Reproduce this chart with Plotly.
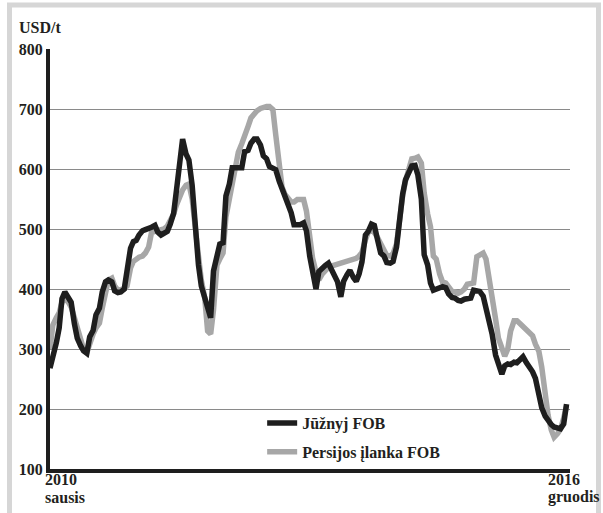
import pandas as pd
import plotly.graph_objects as go

# semi-monthly observations, Jan 2010 - Dec 2016 (USD/t)
dates = pd.date_range("2010-01-01", periods=168, freq="SMS")

juznyj_fob = [
    268, 285, 310, 335, 384, 395, 383, 378, 342, 318, 305, 297, 293, 320, 331, 357,
    368, 395, 412, 415, 412, 397, 394, 395, 400, 437, 468, 479, 481, 490, 497, 499,
    500, 503, 506, 495, 490, 492, 496, 508, 526, 565, 607, 650, 625, 615, 573, 505,
    440, 405, 382, 366, 352, 430, 452, 475, 477, 555, 575, 602, 602, 602, 602, 629,
    631, 643, 650, 650, 640, 622, 617, 604, 601, 599, 580, 568, 557, 543, 527, 507,
    507, 507, 510, 497, 455, 433, 400, 429, 433, 439, 443, 434, 420, 412, 387, 413,
    424, 431, 419, 413, 425, 445, 490, 496, 508, 506, 480, 460, 455, 444, 443, 446,
    470, 515, 558, 582, 596, 605, 606, 590, 550, 457, 440, 410, 398, 400, 402, 404,
    402, 392, 386, 385, 381, 380, 383, 383, 385, 398, 398, 396, 388, 370, 345, 325,
    290, 275, 258, 272, 275, 274, 278, 277, 282, 287, 277, 271, 262, 251, 226, 202,
    188, 180, 174, 170, 167, 167, 175, 208,
]

persijos_fob = [
    300, 340, 352, 360, 378, 385, 378, 370, 352, 335, 315, 300, 294, 310, 325, 335,
    343, 368, 400, 415, 418, 405, 398, 398, 400, 405, 435, 446, 450, 453, 455, 460,
    470, 494, 496, 497, 498, 500, 505, 513, 525, 540, 555, 565, 573, 575, 550, 500,
    455, 415, 385, 330, 325, 365, 440, 450, 460, 520, 550, 580, 605, 628, 642, 658,
    671, 685, 692, 697, 701, 703, 704, 704, 699, 657, 610, 570, 558, 553, 545, 545,
    549, 549, 549, 530, 480, 452, 428, 415, 425, 432, 436, 438, 440, 441, 442, 444,
    445, 447, 449, 451, 455, 461, 482, 495, 498, 494, 485, 475, 464, 456, 455, 459,
    475, 520, 555, 580, 605, 617, 618, 620, 610, 560, 525, 504, 455, 450, 425, 412,
    410, 405, 396, 395, 393, 395, 400, 408, 410, 410, 454, 458, 460, 450, 420, 385,
    350, 318, 298, 288, 300, 330, 347, 347, 342, 337, 330, 325, 322, 308, 296, 270,
    225, 190, 165, 153, 159, 166, 185, 205,
]

serif = "Liberation Serif"
ink = "#231f20"

fig = go.Figure()
fig.add_trace(go.Scatter(x=dates, y=persijos_fob, mode="lines", name="<b>Persijos įlanka FOB</b>",
                         line=dict(color="#a7a7a7", width=5.5), legendrank=2, legendgroup="p"))
fig.add_trace(go.Scatter(x=dates, y=juznyj_fob, mode="lines", name="<b>Jūžnyj FOB</b>",
                         line=dict(color="#1e1e1e", width=5.5), legendrank=1, legendgroup="j"))

fig.update_layout(
    width=603, height=513,
    margin=dict(l=50, r=33, t=49, b=44),
    paper_bgcolor="white", plot_bgcolor="white",
    font=dict(family=serif, size=16, color=ink),
    showlegend=True,
    legend=dict(x=0.408, y=0.15, xanchor="left", yanchor="top", traceorder="grouped",
                tracegroupgap=5, bgcolor="rgba(0,0,0,0)",
                font=dict(family=serif, size=16, color=ink)),
    xaxis=dict(range=["2010-01-01", "2017-01-01"], showgrid=False, showticklabels=False,
               ticks="", showline=True, linecolor="#1e1e1e", linewidth=4, zeroline=False),
    yaxis=dict(range=[100, 800], dtick=100, showgrid=True, gridcolor="#8a8a8a", gridwidth=1,
               showline=True, linecolor="#1e1e1e", linewidth=4, ticks="", zeroline=False,
               tickfont=dict(family=serif, size=16, color=ink), tickprefix="<b>", ticksuffix="</b>"),
)

# axis captions
fig.add_annotation(text="<b>USD/t</b>", xref="paper", yref="paper", x=-0.063, y=1.052,
                   xanchor="left", yanchor="middle", showarrow=False)
for txt, px, py in [("2010", 43, 480), ("sausis", 43, 497), ("2016", 546, 480), ("gruodis", 546, 497)]:
    fig.add_annotation(text=f"<b>{txt}</b>", xref="paper", yref="paper",
                       x=(px - 50) / 520, y=(469 - py) / 420,
                       xanchor="left", yanchor="middle", showarrow=False)

# light grey frame around the figure
fig.add_shape(type="rect", xref="paper", yref="paper",
              x0=(9.5 - 50) / 520, x1=(598.5 - 50) / 520,
              y0=(469 - 530) / 420, y1=(469 - 5) / 420,
              line=dict(color="#d6d6d6", width=5), layer="below")

# drop the page's default body margin so the figure sits at the window origin
fig.write_html("out.html", config={"displayModeBar": False},
               post_script="document.body.style.margin='0';")
